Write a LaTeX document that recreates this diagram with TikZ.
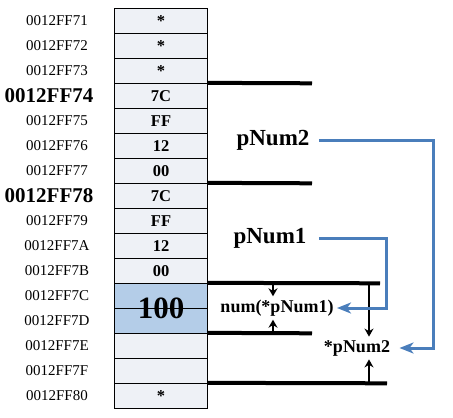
\documentclass[tikz,border=0pt]{standalone}
\usepackage{fontspec}
\setmainfont{Liberation Serif}
\usetikzlibrary{arrows.meta, positioning}
\definecolor{cellgray}{RGB}{238,241,246}
\definecolor{cellblue}{RGB}{180,205,232}
\definecolor{linkblue}{RGB}{74,126,187}

\begin{document}
\begin{tikzpicture}[x=1pt, y=-1pt,
  cell/.style={draw, line width=0.9pt, fill=cellgray, minimum width=93pt, minimum height=25pt, inner sep=0pt, font=\fontsize{16.5}{16.5}\selectfont\bfseries},
  addr/.style={font=\fontsize{15}{15}\selectfont},
  addrbig/.style={font=\fontsize{21}{21}\selectfont\bfseries},
  ptr/.style={font=\fontsize{23}{23}\selectfont\bfseries},
  var/.style={font=\fontsize{18}{18}\selectfont\bfseries},
  bar/.style={line width=4pt},
  tick/.style={-{Stealth[length=8pt,width=9pt]}, line width=2pt},
  link/.style={-{Stealth[length=14pt,width=11pt,inset=4pt]}, draw=linkblue, line width=3pt}
]
\useasboundingbox (0,0) rectangle (453,418);

% Memory cells
\node[cell] (c71) at (161,20.8)  {*};
\node[cell] (c72) at (161,45.8)  {*};
\node[cell] (c73) at (161,70.8)  {*};
\node[cell] (c74) at (161,95.8)  {7C};
\node[cell] (c75) at (161,120.8) {FF};
\node[cell] (c76) at (161,145.8) {12};
\node[cell] (c77) at (161,170.8) {00};
\node[cell] (c78) at (161,195.8) {7C};
\node[cell] (c79) at (161,220.8) {FF};
\node[cell] (c7A) at (161,245.8) {12};
\node[cell] (c7B) at (161,270.8) {00};
\node[cell, fill=cellblue] (c7C) at (161,295.8) {};
\node[cell, fill=cellblue] (c7D) at (161,320.8) {};
\node[cell] (c7E) at (161,345.8) {};
\node[cell] (c7F) at (161,370.8) {};
\node[cell] (c80) at (161,395.8) {*};
\node[font=\fontsize{31}{31}\selectfont\bfseries] (v100) at (161,308.3) {100};

% Addresses
\node[addr]    (a71) at (57,20.8)  {0012FF71};
\node[addr]    (a72) at (57,45.8)  {0012FF72};
\node[addr]    (a73) at (57,70.8)  {0012FF73};
\node[addrbig] (a74) at (49,95.8)  {0012FF74};
\node[addr]    (a75) at (57,120.8) {0012FF75};
\node[addr]    (a76) at (57,145.8) {0012FF76};
\node[addr]    (a77) at (57,170.8) {0012FF77};
\node[addrbig] (a78) at (49,195.8) {0012FF78};
\node[addr]    (a79) at (57,220.8) {0012FF79};
\node[addr]    (a7A) at (57,245.8) {0012FF7A};
\node[addr]    (a7B) at (57,270.8) {0012FF7B};
\node[addr]    (a7C) at (57,295.8) {0012FF7C};
\node[addr]    (a7D) at (57,320.8) {0012FF7D};
\node[addr]    (a7E) at (57,345.8) {0012FF7E};
\node[addr]    (a7F) at (57,370.8) {0012FF7F};
\node[addr]    (a80) at (57,395.8) {0012FF80};

% Variable names
\node[ptr] (pNum2) at (273,140) {pNum2};
\node[ptr] (pNum1) at (270,238) {pNum1};
\node[var] (num)   at (277,308) {num(*pNum1)};
\node[var] (sNum2) at (357,348) {*pNum2};

% Extent bars
\coordinate (e74) at (312,83.3);
\coordinate (e78) at (312,183.3);
\coordinate (e7C) at (380,283.3);
\coordinate (e7E) at (312,333.3);
\coordinate (e80) at (387,383.3);
\draw[bar] (c74.north east) -- (e74);
\draw[bar] (c78.north east) -- (e78);
\draw[bar] (c7C.north east) -- (e7C);
\draw[bar] (c7E.north east) -- (e7E);
\draw[bar] (c80.north east) -- (e80);

% Bounds of num and *pNum2
\draw[tick] (273,283.3) -- (num.north -| 273,0);
\draw[tick] (273,333.3) -- (num.south -| 273,0);
\draw[tick] (369,283.3) -- (sNum2.north -| 369,0);
\draw[tick] (369,383.3) -- (sNum2.south -| 369,0);

% Pointers
\coordinate (k2) at (433,140);
\coordinate (k1) at (386,238);
\draw[link, shorten <=6pt, shorten >=6pt] (pNum2.east) -- (k2) |- (sNum2.east);
\draw[link, shorten <=9pt] (pNum1.east) -- (k1) |- (num.east);

\end{tikzpicture}
\end{document}
